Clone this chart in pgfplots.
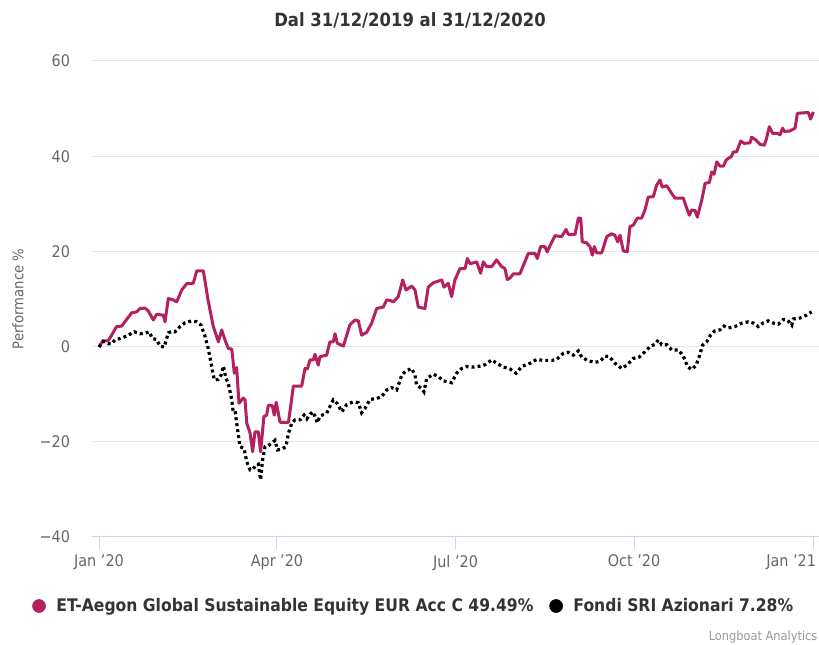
\documentclass[border=0pt]{standalone}
\usepackage{fontspec}
\setmainfont{DejaVu Sans}[FakeStretch=0.9]
\usepackage{pgfplots}
\pgfplotsset{compat=1.18}
\definecolor{purp}{RGB}{180,32,96}
\definecolor{gridc}{RGB}{230,230,230}
\definecolor{axc}{RGB}{204,214,235}
\definecolor{labc}{RGB}{102,102,102}
\definecolor{titc}{RGB}{51,51,51}
\begin{document}
\begin{tikzpicture}
\path[use as bounding box] (0pt,0pt) rectangle (614.25pt,483.75pt);
\begin{axis}[
  at={(69pt,81pt)}, anchor=south west,
  width=545.25pt, height=357pt, scale only axis,
  xmin=-3.6, xmax=369.8, ymin=-40, ymax=60,
  axis x line*=bottom, axis y line*=left,
  y axis line style={draw=none},
  x axis line style={draw=axc, line width=0.75pt},
  xtick={0,91.4,183.1,274.8,367.2},
  xticklabels={Jan '20,Apr '20,Jul '20,Oct '20,\hspace*{3pt}\makebox[0pt][r]{Jan '21}},
  xtick align=outside,
  major tick length=9pt,
  xtick style={draw=axc, line width=0.75pt},
  ytick={-40,-20,0,20,40,60},
  yticklabels={−40,−20,0,20,40,60},
  ytick style={draw=none},
  ymajorgrids, grid style={draw=gridc, line width=0.75pt},
  tick label style={font=\fontsize{12pt}{14pt}\selectfont, text=labc},
  yticklabel style={anchor=east, xshift=-13pt},
  xticklabel style={yshift=-1pt},
  ylabel={Performance \%},
  ylabel style={at={(axis description cs:-0.1018,0.5)}, anchor=center, font=\fontsize{11pt}{13pt}\selectfont, text=labc},
  legend style={at={(axis description cs:0.443,-0.145)}, anchor=center, draw=none, fill=none,
    legend columns=2, font=\bfseries\fontsize{13pt}{15pt}\selectfont, text=titc,
    /tikz/every even column/.append style={column sep=10pt}},
  legend cell align=left,
]
\addplot[purp, line width=2.25pt, line join=round, forget plot] coordinates {
(0,0)(2,1.2)(4.6,1.2)(6.5,2.4)(9,4.2)(11.6,4.3)(14,5.6)(16.8,7.1)(19.4,7.3)(21,8.0)(23.6,8.1)(25.3,7.5)(27.9,5.6)(29.6,6.8)(33,6.6)(33.9,5.2)(35.6,10.1)(38.2,9.8)(39.9,9.4)(42.5,11.9)(45,13.2)(48.4,13.3)(50.2,15.9)(53.6,15.9)(56,9.8)(58.7,4.2)(61.3,1.0)(63,3.5)(64.7,1.4)(66.4,-0.4)(68.2,-0.5)(69.5,-5.6)(70.7,-4.4)(71.9,-11.9)(74.1,-10.8)(75,-11.2)(75.9,-16.1)(77.6,-18.2)(78.9,-22.1)(80.1,-17.9)(81.8,-17.9)(83,-22.1)(84.7,-14.7)(86.1,-14.4)(87,-12.3)(89,-12.4)(90,-14.4)(91,-11.7)(93,-15.9)(97.3,-15.9)(99,-10.9)(99.8,-8.3)(104.1,-8.3)(105.8,-4.6)(107,-4.7)(108.4,-2.8)(110.1,-2.8)(110.9,-1.6)(112.6,-3.9)(113.5,-2.1)(116.9,-1.8)(118.6,1.0)(120.3,1.0)(121.2,2.7)(122.4,0.7)(125.5,0.1)(128.9,4.6)(131.5,5.6)(133.2,5.4)(134.9,2.4)(137.5,3.0)(140,4.9)(142.6,8.0)(146,8.3)(147.8,9.8)(149.5,9.7)(151.2,9.4)(153.7,10.5)(156,14.0)(157.7,11.9)(160.6,12.7)(162.3,11.9)(164,8.3)(167.4,8.0)(169.1,12.5)(171.7,13.4)(176,14.0)(177.2,12.5)(179.4,13.3)(181.1,10.5)(182.8,14.0)(185.4,16.4)(188,16.4)(189.2,18.5)(190.6,17.4)(194,17.8)(196,15.4)(197.4,17.8)(199.1,16.8)(201.7,16.8)(204.2,18.2)(206.8,16.8)(208.5,16.4)(209.7,14.1)(211.1,14.4)(212.8,15.3)(216.2,15.3)(218,17.1)(220.5,19.6)(223.9,19.6)(225.1,18.5)(226.8,21.0)(229,21.0)(230.2,19.9)(232,21.5)(234.2,23.3)(237.6,23.1)(239.9,24.6)(241,23.6)(244.5,23.6)(246.2,27.0)(247.4,27.0)(248.2,22.0)(250.4,21.8)(252.2,21.0)(253.4,19.2)(254.4,21.0)(255.6,19.7)(258.2,19.7)(260.8,23.1)(263.3,23.7)(265,23.4)(266.4,22.0)(267.6,23.4)(269.3,20.1)(271.3,19.9)(272.7,25.2)(274.4,25.5)(276.5,27.0)(278.7,27.0)(280.4,28.7)(282.1,31.4)(284.7,31.5)(286.4,33.9)(288.1,35.0)(289.3,33.5)(291.6,33.8)(294.1,32.2)(295.8,31.2)(300.1,31.2)(301.5,29.5)(303.2,27.6)(304.4,28.7)(306.1,28.6)(307.3,27.2)(309.6,30.8)(311.3,34.3)(313.5,34.5)(314.7,36.7)(315.9,36.2)(317.3,38.8)(319,37.9)(320.7,37.9)(322.1,39.2)(324.9,40.0)(325.8,40.9)(327.5,40.9)(329.6,43.2)(331.3,42.7)(334.4,42.8)(335.2,44.0)(337.4,43.4)(339.5,42.5)(341.7,42.3)(342.9,43.8)(344.3,46.2)(346,44.8)(348.4,44.8)(349.8,44.5)(351.1,45.9)(352,45.2)(354.9,45.3)(357.5,45.9)(358.7,49.0)(364.3,49.2)(365.5,47.8)(366.9,49.3)
};
\addplot[black, line width=2.4pt, dash pattern=on 2.2pt off 2.3pt, forget plot] coordinates {
(0,-0.1)(2.2,1.1)(4.8,0.6)(6.5,0.6)(8.2,1.4)(10.8,1.7)(14.2,2.2)(18.1,3.1)(21,2.7)(23.6,2.8)(25.8,3.1)(27.4,1.7)(29.6,1.5)(31.3,0.1)(33.5,-0.1)(35.6,2.9)(37.3,3.2)(39,3.1)(41.6,4.2)(44.2,5.0)(47.6,5.4)(50.2,5.2)(52.4,4.5)(54.4,2.2)(56.1,-0.4)(57.9,-4.2)(59.2,-7.0)(61.3,-6.9)(62.7,-6.0)(63.9,-4.1)(65.2,-6.7)(66.4,-7.7)(68.2,-11.2)(69,-14.0)(70,-13.9)(71.2,-17.5)(72.4,-21.0)(74.5,-21.4)(75.9,-24.2)(77.6,-25.9)(79,-25.8)(80.6,-24.9)(81.8,-24.7)(83,-28.0)(84,-23.8)(85.3,-21.0)(87,-20.8)(89,-20.2)(90.4,-19.7)(91.6,-21.7)(93.8,-21.6)(96,-21.0)(97.3,-18.2)(99,-16.1)(100.7,-15.4)(103.2,-15.4)(105.3,-14.4)(106.7,-15.2)(108.4,-14.2)(109.7,-13.7)(110.9,-14.6)(112.1,-16.0)(113.5,-14.6)(116.9,-14.0)(118.6,-12.6)(120.3,-11.2)(122.4,-12.0)(124.7,-13.7)(127.2,-12.2)(130.6,-11.6)(133.2,-11.8)(134.9,-13.9)(136.6,-13.0)(139.2,-11.1)(142.6,-10.9)(145.2,-10.5)(147.8,-9.1)(150.3,-8.6)(152.9,-9.1)(155.5,-6.0)(157.7,-5.1)(160.6,-4.6)(162.3,-6.0)(163.1,-8.1)(165.7,-8.8)(166.9,-9.5)(168.3,-6.7)(171.7,-5.8)(174.3,-6.3)(176.8,-7.2)(181.1,-7.6)(183.7,-5.6)(186.3,-4.6)(188.8,-4.2)(192.3,-4.3)(195.7,-4.1)(198.3,-3.8)(201.7,-2.8)(204.2,-3.5)(207.7,-4.3)(211.1,-4.7)(214.2,-5.6)(217.1,-4.2)(221.4,-3.5)(224.8,-2.7)(228.2,-2.9)(232.5,-2.9)(235,-2.7)(238.5,-1.4)(241,-1.2)(243.6,-1.8)(246.2,-0.9)(247.9,-2.2)(251.3,-3.0)(254.8,-3.3)(257.3,-3.1)(259.9,-2.0)(262.1,-2.1)(265,-3.5)(268.5,-4.6)(271,-3.9)(274.4,-2.5)(277.5,-2.2)(280.4,-1.1)(283,0)(285.6,0.5)(287.3,1.4)(289,0.4)(291.6,0.4)(294.1,-0.7)(297.5,-0.7)(299.8,-1.8)(301,-2.8)(302.2,-4.2)(304.4,-4.8)(306.6,-4.0)(308.3,-2.1)(310,0.3)(312.1,1.0)(314.1,2.4)(316.3,3.3)(318.9,3.5)(321,4.3)(323.2,3.9)(326.6,4.2)(330,4.9)(333.5,5.2)(336.4,4.9)(338.6,4.2)(341.2,5.0)(343.7,5.4)(346.7,4.9)(348.9,4.7)(351.5,5.7)(353.5,5.6)(355.8,4.5)(356.6,5.8)(360,6.0)(363.4,6.6)(366,7.3)
};
\addlegendimage{purp, legend image code/.code={\fill (0pt,0pt) circle (4.9pt); \path[draw=none,fill=none] (-4.9pt,0pt) -- (11pt,0pt);}}
\addlegendentry{ET-Aegon Global Sustainable Equity EUR Acc C 49.49\%}
\addlegendimage{black, legend image code/.code={\fill (0pt,0pt) circle (4.9pt); \path[draw=none,fill=none] (-4.9pt,0pt) -- (11pt,0pt);}}
\addlegendentry{Fondi SRI Azionari 7.28\%}
\end{axis}
\node[font=\bfseries\fontsize{13.7pt}{16pt}\selectfont, text=titc] at (307.5pt,468.75pt) {Dal 31/12/2019 al 31/12/2020};
\node[anchor=east, font=\fontsize{9.5pt}{11pt}\selectfont, text=gray!80, inner sep=1pt] at (614.25pt,6pt) {Longboat Analytics};
\end{tikzpicture}
\end{document}
